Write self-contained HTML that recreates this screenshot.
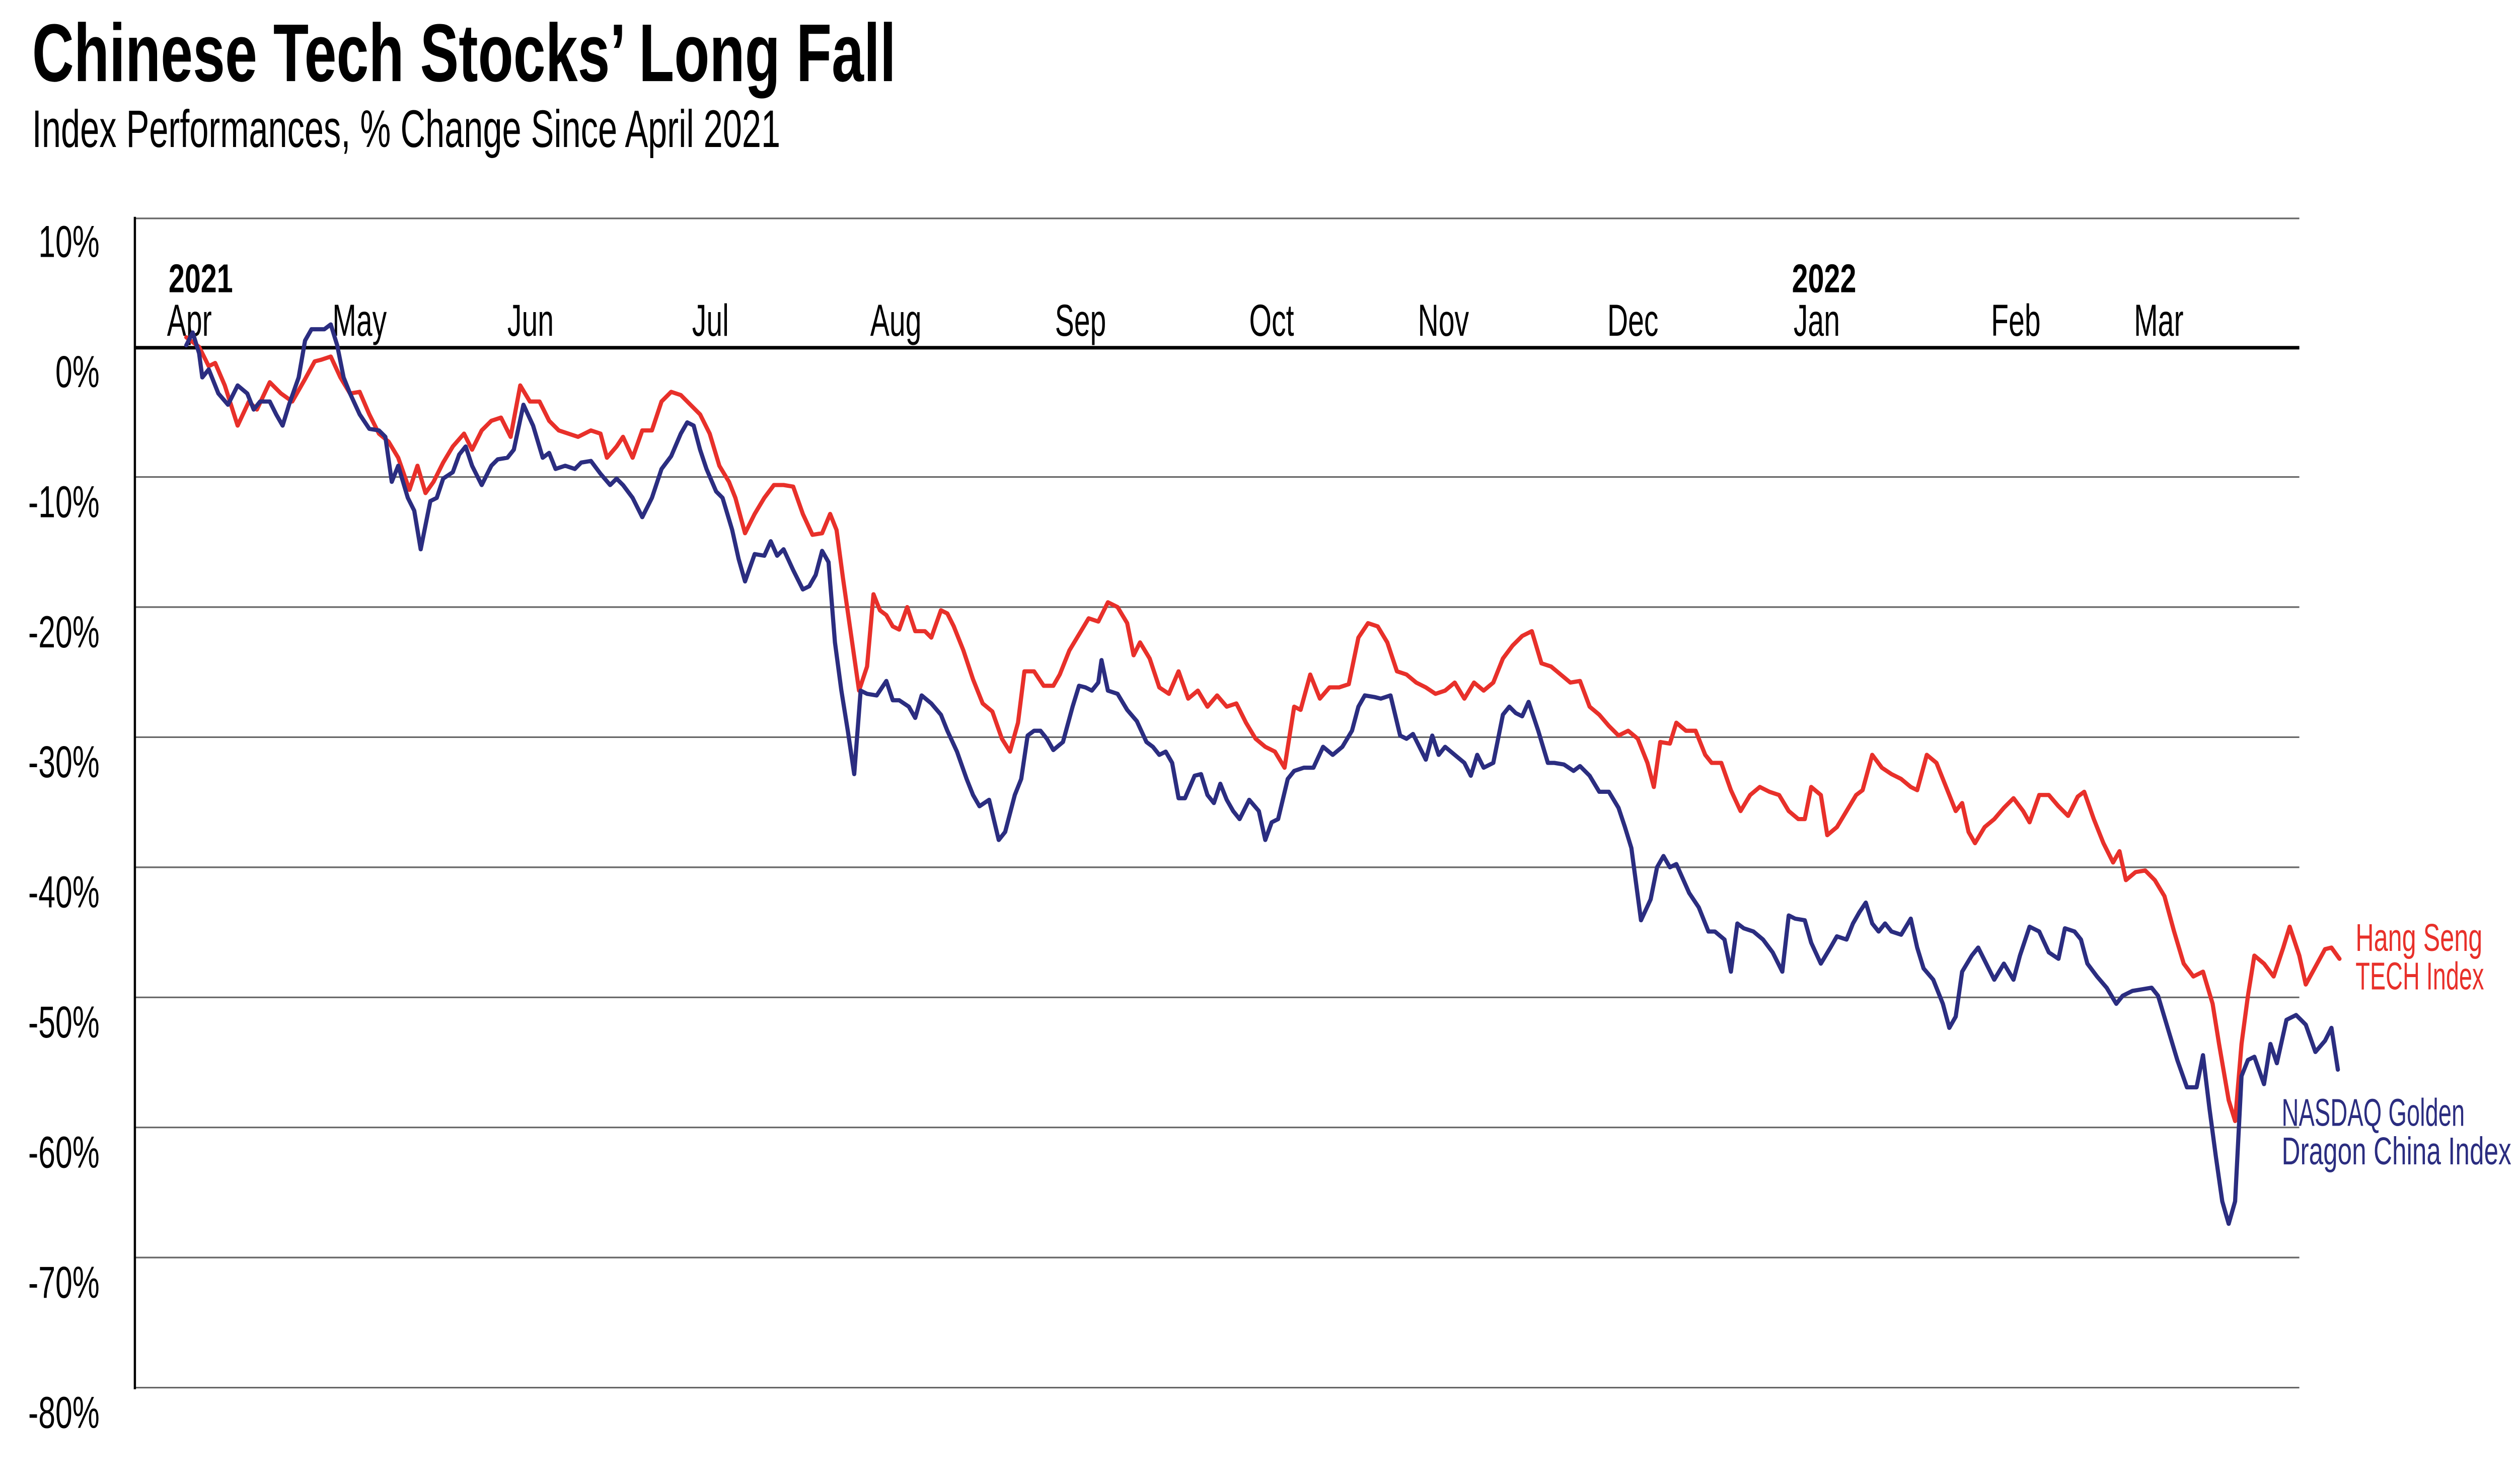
<!DOCTYPE html>
<html><head><meta charset="utf-8"><style>
html,body{margin:0;padding:0;background:#fff;}
svg{display:block;}
text{font-family:"Liberation Sans",sans-serif;}
</style></head><body>
<svg width="5062" height="2948" viewBox="0 0 1587 924" preserveAspectRatio="none" xmlns="http://www.w3.org/2000/svg">
<rect width="1587" height="924" fill="#fff"/>
<text x="20" y="50.5" font-size="51" font-weight="bold" textLength="538" lengthAdjust="spacingAndGlyphs">Chinese Tech Stocks’ Long Fall</text>
<text x="20" y="91.5" font-size="33" textLength="466" lengthAdjust="spacingAndGlyphs">Index Performances, % Change Since April 2021</text>
<g stroke="#666" stroke-width="1">
<line x1="84" y1="136" x2="1432" y2="136"/>
<line x1="84" y1="297" x2="1432" y2="297"/>
<line x1="84" y1="378" x2="1432" y2="378"/>
<line x1="84" y1="459" x2="1432" y2="459"/>
<line x1="84" y1="540" x2="1432" y2="540"/>
<line x1="84" y1="621" x2="1432" y2="621"/>
<line x1="84" y1="702" x2="1432" y2="702"/>
<line x1="84" y1="783" x2="1432" y2="783"/>
<line x1="84" y1="864" x2="1432" y2="864"/>
</g>
<line x1="84" y1="216.5" x2="1432" y2="216.5" stroke="#000" stroke-width="2.2"/>
<line x1="84" y1="135" x2="84" y2="865" stroke="#000" stroke-width="1.4"/>
<g font-size="28" text-anchor="end">
<text transform="translate(62,160) scale(0.68,1)">10%</text>
<text transform="translate(62,241) scale(0.68,1)">0%</text>
<text transform="translate(62,322) scale(0.68,1)">-10%</text>
<text transform="translate(62,403) scale(0.68,1)">-20%</text>
<text transform="translate(62,484) scale(0.68,1)">-30%</text>
<text transform="translate(62,565) scale(0.68,1)">-40%</text>
<text transform="translate(62,646) scale(0.68,1)">-50%</text>
<text transform="translate(62,727) scale(0.68,1)">-60%</text>
<text transform="translate(62,808) scale(0.68,1)">-70%</text>
<text transform="translate(62,889) scale(0.68,1)">-80%</text>
</g>
<g font-size="25" font-weight="bold">
<text transform="translate(105,182) scale(0.72,1)">2021</text>
<text transform="translate(1116,182) scale(0.72,1)">2022</text>
</g>
<g font-size="28">
<text transform="translate(104,209) scale(0.64,1)">Apr</text>
<text transform="translate(207,209) scale(0.64,1)">May</text>
<text transform="translate(316,209) scale(0.64,1)">Jun</text>
<text transform="translate(431,209) scale(0.64,1)">Jul</text>
<text transform="translate(542,209) scale(0.64,1)">Aug</text>
<text transform="translate(657,209) scale(0.64,1)">Sep</text>
<text transform="translate(778,209) scale(0.64,1)">Oct</text>
<text transform="translate(883,209) scale(0.64,1)">Nov</text>
<text transform="translate(1001,209) scale(0.64,1)">Dec</text>
<text transform="translate(1117,209) scale(0.64,1)">Jan</text>
<text transform="translate(1240,209) scale(0.64,1)">Feb</text>
<text transform="translate(1329,209) scale(0.64,1)">Mar</text>
</g>
<polyline fill="none" stroke="#e8302a" stroke-width="2.6" stroke-linejoin="round" stroke-linecap="round" points="116,210 124,216 130,228 134,226 140,240 148,265 155,250 160,255 168,238 175,245 182,250 190,236 196,225 200,224 206,222 212,235 218,245 224,244 230,258 236,270 242,275 248,285 255,305 260,290 265,307 270,300 276,288 282,278 289,270 294,280 300,268 306,262 312,260 318,272 324,240 330,250 336,250 342,262 348,268 354,270 360,272 368,268 374,270 378,285 384,278 388,272 394,285 400,268 406,268 412,250 418,244 424,246 430,252 436,258 442,270 448,290 454,300 458,310 464,332 470,320 476,310 482,302 488,302 494,303 500,320 506,333 512,332 517,320 521,330 525,360 530,395 535,430 540,415 544,370 548,380 552,383 556,390 560,392 565,378 570,393 576,393 580,397 586,380 590,382 594,390 600,405 606,423 612,438 618,443 624,460 629,468 634,450 638,418 644,418 650,427 656,427 660,420 666,405 672,395 678,385 684,387 690,375 696,378 702,388 706,408 710,400 716,410 722,428 728,432 734,418 740,435 746,430 752,440 758,433 764,440 770,438 776,450 782,460 788,465 794,468 800,478 806,440 810,442 816,420 822,435 828,428 834,428 840,426 846,397 852,388 858,390 864,400 870,418 876,420 882,425 888,428 894,432 900,430 906,425 912,435 918,425 924,430 930,425 936,410 942,402 948,396 954,393 960,413 966,415 972,420 978,425 984,424 990,440 996,445 1002,452 1008,458 1014,455 1020,460 1026,475 1030,490 1034,462 1040,463 1044,450 1050,455 1056,455 1062,470 1066,475 1072,475 1078,492 1084,505 1090,495 1096,490 1102,493 1108,495 1114,505 1120,510 1124,510 1128,490 1134,495 1138,520 1144,515 1150,505 1156,495 1160,492 1166,470 1172,478 1178,482 1184,485 1190,490 1194,492 1200,470 1206,475 1212,490 1218,505 1222,500 1226,518 1230,525 1236,515 1242,510 1248,503 1254,497 1260,505 1264,512 1270,495 1276,495 1282,502 1288,508 1294,496 1298,493 1304,510 1310,525 1316,537 1320,530 1324,548 1330,543 1336,542 1342,548 1348,558 1354,580 1360,600 1366,608 1372,605 1378,625 1382,650 1388,685 1392,698 1396,650 1400,620 1404,595 1410,600 1416,608 1422,590 1426,577 1432,595 1436,613 1442,602 1448,591 1452,590 1457,597"/>
<polyline fill="none" stroke="#2b2d80" stroke-width="2.6" stroke-linejoin="round" stroke-linecap="round" points="116,215 120,207 124,220 126,235 130,230 136,245 142,252 148,240 154,245 158,255 162,250 168,250 172,258 176,265 180,252 186,235 190,212 194,205 198,205 202,205 206,202 210,215 214,235 218,245 224,258 230,267 236,268 240,272 244,300 248,290 254,310 258,318 262,342 268,312 272,310 276,298 282,294 286,283 290,278 294,290 300,302 306,290 310,286 316,285 320,280 326,252 332,265 338,285 342,282 346,292 352,290 358,292 362,288 368,287 374,295 380,302 384,298 388,302 394,310 400,322 406,310 412,292 418,284 424,270 428,263 432,265 436,280 440,292 446,306 450,310 456,330 460,348 464,362 470,345 476,346 480,337 484,346 488,342 494,355 500,367 504,365 508,358 512,343 516,350 520,400 524,430 528,455 532,482 536,430 540,432 546,433 552,424 556,436 560,436 566,440 570,447 574,433 580,438 586,445 590,455 596,468 602,485 606,495 610,502 616,498 622,523 626,518 632,495 636,485 640,458 644,455 648,455 652,460 656,467 662,462 668,440 672,427 676,428 680,430 684,425 686,411 690,430 696,432 702,442 708,449 714,462 718,465 722,470 726,468 730,475 734,497 738,497 744,483 748,482 752,495 756,500 760,488 764,498 768,505 772,510 778,498 784,505 788,523 792,512 796,510 802,485 806,480 812,478 818,478 824,465 830,470 836,465 842,455 846,440 850,433 856,434 860,435 866,433 872,458 876,460 880,457 884,465 888,473 892,458 896,470 900,465 906,470 912,475 916,483 920,470 924,478 930,475 936,445 940,440 944,444 948,446 952,437 958,455 964,475 968,475 974,476 980,480 984,477 990,483 996,493 1002,493 1008,503 1012,515 1016,528 1022,573 1028,560 1032,540 1036,533 1040,540 1044,538 1048,547 1052,556 1058,565 1064,580 1068,580 1074,585 1078,605 1082,575 1086,578 1092,580 1098,585 1104,593 1110,605 1114,570 1118,572 1124,573 1128,587 1134,600 1140,590 1144,583 1150,585 1154,575 1158,568 1162,562 1166,575 1170,580 1174,575 1178,580 1184,582 1190,572 1194,590 1198,603 1204,610 1210,625 1214,640 1218,633 1222,605 1228,595 1232,590 1236,598 1242,610 1248,600 1254,610 1258,595 1264,577 1270,580 1276,593 1282,597 1286,578 1292,580 1296,585 1300,600 1306,608 1312,615 1318,625 1322,620 1328,617 1334,616 1340,615 1344,620 1350,640 1356,660 1362,677 1368,677 1372,657 1376,690 1380,720 1384,748 1388,762 1392,748 1396,670 1400,660 1404,658 1410,675 1414,650 1418,662 1424,635 1430,632 1436,638 1442,655 1448,648 1452,640 1456,666"/>
<g font-size="24" fill="#e8302a">
<text x="1467" y="592" textLength="79" lengthAdjust="spacingAndGlyphs">Hang Seng</text>
<text x="1467" y="616" textLength="80" lengthAdjust="spacingAndGlyphs">TECH Index</text>
</g>
<g font-size="24" fill="#2b2d80">
<text x="1421" y="701" textLength="114" lengthAdjust="spacingAndGlyphs">NASDAQ Golden</text>
<text x="1421" y="725" textLength="143" lengthAdjust="spacingAndGlyphs">Dragon China Index</text>
</g>
</svg>
</body></html>
